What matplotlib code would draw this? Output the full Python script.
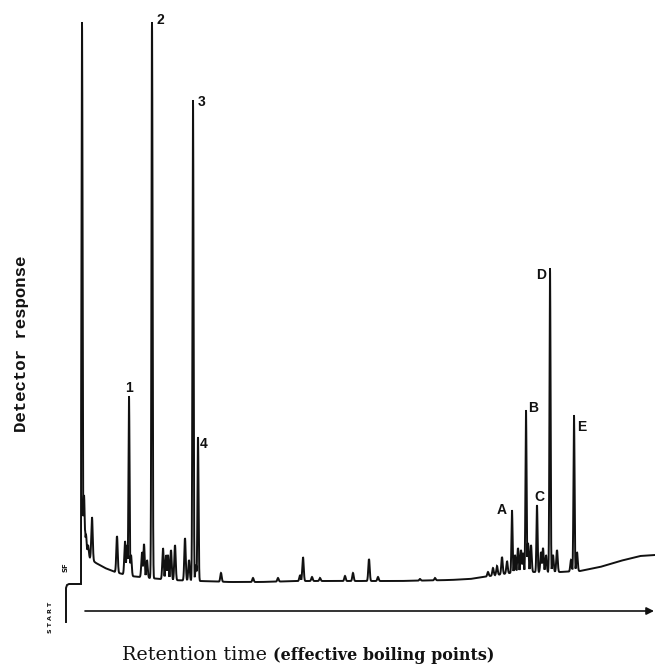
import numpy as np
import matplotlib.pyplot as plt

# baseline (drift) knots: retention position, response
base_x = [81, 84, 88, 92, 96, 105, 115, 130, 150, 170, 200, 230, 260, 300, 350,
          400, 450, 470, 490, 510, 530, 560, 580, 600, 620, 640, 655]
base_y = [34, 38, 34, 30, 27, 22, 18, 14, 12, 10, 9, 8, 8, 9, 9,
          9, 10, 11, 14, 17, 18, 18, 19, 23, 29, 34, 35]

# labelled / major peaks: position, apex response
major_x = [82, 152, 193, 129, 198, 512, 526, 537, 550, 574]
major_y = [568, 568, 490, 194, 153, 80, 180, 85, 322, 175]

# minor peaks
minor_x = [83, 84, 85, 86, 88, 92, 117, 125, 127, 131, 142, 144, 147, 163, 166,
           168, 171, 175, 185, 189, 196, 221, 253, 278, 300, 303, 312, 320, 345,
           353, 369, 378, 420, 435, 488, 493, 497, 502, 507, 515, 518, 521, 523,
           528, 531, 541, 543, 546, 553, 557, 571, 577]
minor_y = [77, 95, 60, 55, 45, 73, 54, 49, 45, 35, 38, 46, 30, 42, 35,
           35, 40, 45, 52, 30, 25, 17, 12, 12, 15, 33, 13, 12, 14,
           17, 31, 13, 11, 12, 18, 22, 24, 33, 29, 35, 42, 40, 37,
           47, 45, 38, 42, 35, 35, 40, 30, 38]

# peak labels
labels = ["2", "3", "1", "4", "A", "B", "C", "D", "E"]
label_x = [160, 202, 129, 204, 502, 533, 539, 541, 582]
label_y = [570, 488, 202, 146, 80, 182, 93, 315, 163]

# pen start step before injection
start_x = [66, 66, 67, 69, 81]
start_y = [-32, 2, 5, 6, 6]

x = np.arange(81, 655.01, 0.1)
base = np.interp(x, base_x, base_y)
bumps = np.zeros_like(x)
for px, py, s in ([(a, b, 0.55) for a, b in zip(major_x, major_y)] +
                  [(a, b, 0.7) for a, b in zip(minor_x, minor_y)]):
    h = py - np.interp(px, base_x, base_y)
    bumps = np.maximum(bumps, h * np.exp(-0.5 * ((x - px) / s) ** 2))
y = base + bumps

fig = plt.figure(figsize=(6.55, 6.66), dpi=100)
ax = fig.add_axes([0, 0, 1, 1])
ax.set_xlim(0, 655)
ax.set_ylim(-76, 590)
ax.axis("off")

ax.plot(np.r_[start_x, x], np.r_[start_y, y], color="#111111", lw=1.4,
        solid_joinstyle="miter")

# time axis arrow
ax.annotate("", xy=(654, -21), xytext=(85, -21),
            arrowprops=dict(arrowstyle="-|>", color="#111111", lw=1.2,
                            mutation_scale=11, shrinkA=0, shrinkB=0))

for t, lx, ly in zip(labels, label_x, label_y):
    ax.text(lx, ly, t, ha="center", va="center", fontsize=10,
            fontweight="bold", family="Liberation Sans", color="#111111")

ax.text(66, 23, "SF", rotation=90, ha="center", va="center", fontsize=5,
        fontweight="bold", color="#111111")
ax.text(50, -27, "S T A R T", rotation=90, ha="center", va="center",
        fontsize=4.5, fontweight="bold", color="#111111")

ax.text(22, 246, "Detector response", rotation=90, ha="center", va="center",
        fontsize=12.5, fontweight="bold", family="Liberation Mono",
        color="#111111")
ax.text(122, -70, "Retention time", ha="left", va="baseline", fontsize=13.8,
        family="DejaVu Serif", color="#111111")
ax.text(273, -70, "(effective boiling points)", ha="left", va="baseline",
        fontsize=11.5, fontweight="bold", family="DejaVu Serif", color="#111111")

fig.savefig("out.png", dpi=100)
